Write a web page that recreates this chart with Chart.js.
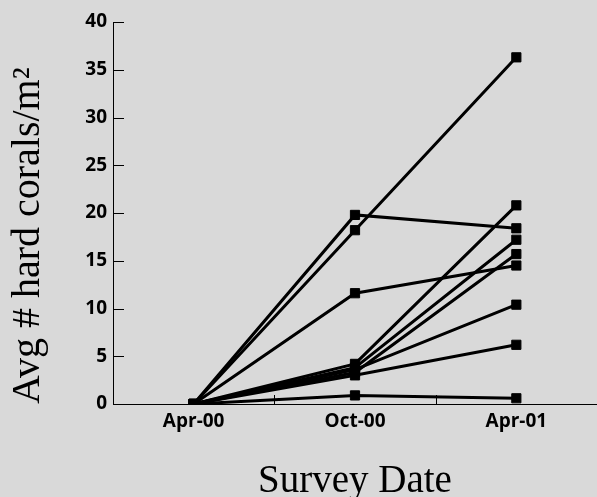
<!doctype html>
<html>
<head>
  <title>Hard coral recruitment</title>
  <script src="https://cdn.jsdelivr.net/npm/chart.js@4.4.1/dist/chart.umd.min.js"></script>
  <style>
    html, body {
      margin: 0;
      padding: 0;
      background: #d9d9d9;
    }
    canvas {
      display: block;
    }
  </style>
</head>
<body>
  <canvas id="myChart" width="597" height="497"></canvas>

  <script>
    // survey dates
    var surveyDates = ['Apr-00', 'Oct-00', 'Apr-01'];

    // avg # hard corals per m2, one list per site
    var site1 = [0, 18.2, 36.3];
    var site2 = [0, 19.8, 18.4];
    var site3 = [0, 11.6, 14.5];
    var site4 = [0, 4.2, 20.8];
    var site5 = [0, 3.8, 17.2];
    var site6 = [0, 3.3, 15.7];
    var site7 = [0, 3.6, 10.4];
    var site8 = [0, 3.0, 6.2];
    var site9 = [0, 0.9, 0.6];

    var yTicks = [0, 5, 10, 15, 20, 25, 30, 35, 40];

    var sites = [site1, site2, site3, site4, site5, site6, site7, site8, site9];

    function makeDataset(values, i) {
      return {
        label: 'Site ' + (i + 1),
        data: values,
        borderColor: '#000',
        backgroundColor: '#000',
        borderWidth: 3,
        pointStyle: 'rect',
        pointRadius: 6.5,
        pointBorderWidth: 1,
        pointBackgroundColor: '#000',
        pointBorderColor: '#000',
        tension: 0,
        fill: false
      };
    }

    // small tick marks pointing into the plot, like the original
    var innerTicks = {
      id: 'innerTicks',
      afterDraw: function(chart) {
        var ctx = chart.ctx;
        var x = chart.scales.x;
        var y = chart.scales.y;
        ctx.save();
        ctx.strokeStyle = '#000';
        ctx.lineWidth = 1;
        ctx.beginPath();
        yTicks.forEach(function(v) {
          if (v === 0) return;
          var py = Math.round(y.getPixelForValue(v)) + 0.5;
          ctx.moveTo(x.left, py);
          ctx.lineTo(x.left + 11, py);
        });
        for (var i = 0; i < surveyDates.length - 1; i++) {
          var px = Math.round((x.getPixelForValue(i) + x.getPixelForValue(i + 1)) / 2) + 0.5;
          ctx.moveTo(px, y.bottom);
          ctx.lineTo(px, y.bottom - 9);
        }
        ctx.stroke();
        ctx.restore();
      }
    };

    var tickFont = { family: '"Open Sans", sans-serif', size: 19, weight: 'bold' };
    var serif = '"Liberation Serif", "Times New Roman", serif';

    var config = {
      type: 'line',
      data: {
        labels: surveyDates,
        datasets: sites.map(makeDataset)
      },
      plugins: [innerTicks],
      options: {
        responsive: false,
        animation: false,
        devicePixelRatio: 1,
        layout: {
          autoPadding: false,
          padding: { top: 22, right: -2, bottom: 0, left: 0 }
        },
        plugins: {
          legend: { display: false },
          tooltip: { enabled: false }
        },
        scales: {
          x: {
            type: 'category',
            offset: true,
            grid: { display: false, drawTicks: false },
            border: { display: true, color: '#000', width: 1 },
            ticks: { color: '#000', font: tickFont, padding: 6, maxRotation: 0 },
            title: {
              display: true,
              text: 'Survey Date',
              color: '#000',
              font: { family: serif, size: 39, lineHeight: 0.8 },
              padding: { top: 0, bottom: 0 }
            },
            afterFit: function(scale) {
              scale.height = 93;
            }
          },
          y: {
            min: 0,
            max: 40,
            grid: { display: false, drawTicks: false },
            border: { display: true, color: '#000', width: 1 },
            ticks: {
              stepSize: 5,
              color: '#000',
              font: tickFont,
              padding: 6
            },
            title: {
              display: true,
              text: 'Avg # hard corals/m\u00b2',
              align: 'start',
              color: '#000',
              font: { family: serif, size: 40, lineHeight: 1 },
              padding: { top: 8, bottom: 0 }
            },
            afterFit: function(scale) {
              scale.width = 113;
            }
          }
        }
      }
    };

    var ctx = document.getElementById('myChart').getContext('2d');
    window.myChart = new Chart(ctx, config);
  </script>
</body>
</html>
